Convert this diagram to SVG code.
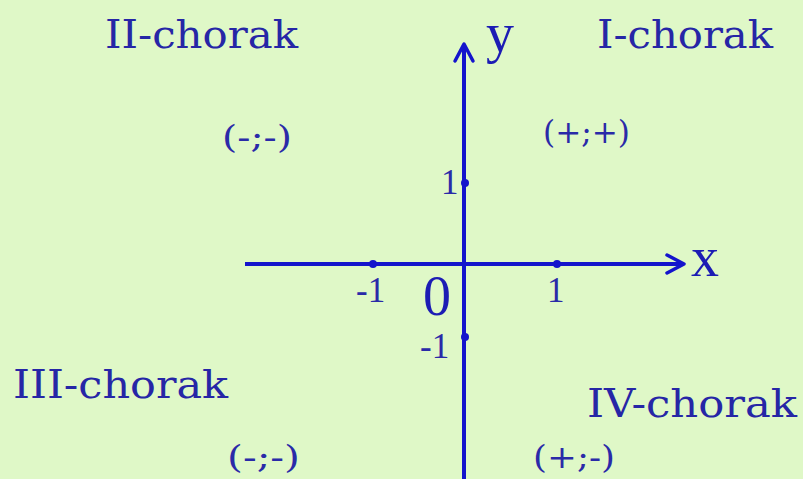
<svg xmlns="http://www.w3.org/2000/svg" width="803" height="479" viewBox="0 0 803 479">
  <style>
    .q { font-family: "DejaVu Serif", "Liberation Serif", serif; font-size: 39px; fill: #2626a6; }
    .s { font-family: "DejaVu Serif", "Liberation Serif", serif; font-size: 31px; fill: #2a2aa8; }
    .n { font-family: "Liberation Serif", serif; font-size: 35px; fill: #2a2aa8; }
    .ax { font-family: "Liberation Serif", serif; font-size: 56px; fill: #1c1cb4; }
    .axis { stroke: #1414cc; stroke-width: 4; fill: none; }
    .head { stroke: #1414cc; stroke-width: 3.5; fill: none; stroke-linecap: round; stroke-linejoin: round; }
    .dot { fill: #1414cc; }
  </style>
  <rect width="803" height="479" fill="#dff8c7"/>
  <g id="connectors">
    <line class="axis" x1="245" y1="264" x2="684" y2="264"/>
    <polyline class="head" points="667,255 684,264 667,273"/>
    <line class="axis" x1="464" y1="479" x2="464" y2="44"/>
    <polyline class="head" points="455,61 464,44 473,61"/>
  </g>
  <g id="ticks">
    <circle class="dot" cx="373" cy="264" r="4"/>
    <circle class="dot" cx="557" cy="264" r="4"/>
    <circle class="dot" cx="465" cy="183" r="4"/>
    <circle class="dot" cx="465" cy="337" r="4"/>
  </g>
  <g id="axis-labels">
    <text class="ax" x="486" y="52">y</text>
    <text class="ax" x="691" y="276">x</text>
    <text class="ax" x="423" y="315">0</text>
    <text class="n" x="441" y="194">1</text>
    <text class="n" x="356" y="302">-1</text>
    <text class="n" x="547" y="302">1</text>
    <text class="n" x="420" y="358">-1</text>
  </g>
  <g id="q1">
    <text class="q" x="597" y="48" textLength="176" lengthAdjust="spacingAndGlyphs">I-chorak</text>
    <text class="s" x="543" y="143" textLength="87" lengthAdjust="spacingAndGlyphs">(+;+)</text>
  </g>
  <g id="q2">
    <text class="q" x="105" y="48" textLength="193" lengthAdjust="spacingAndGlyphs">II-chorak</text>
    <text class="s" x="222" y="148" textLength="70" lengthAdjust="spacingAndGlyphs">(-;-)</text>
  </g>
  <g id="q3">
    <text class="q" x="13" y="398" textLength="215" lengthAdjust="spacingAndGlyphs">III-chorak</text>
    <text class="s" x="227" y="468" textLength="73" lengthAdjust="spacingAndGlyphs">(-;-)</text>
  </g>
  <g id="q4">
    <text class="q" x="587" y="417" textLength="210" lengthAdjust="spacingAndGlyphs">IV-chorak</text>
    <text class="s" x="533" y="468" textLength="82" lengthAdjust="spacingAndGlyphs">(+;-)</text>
  </g>
</svg>
